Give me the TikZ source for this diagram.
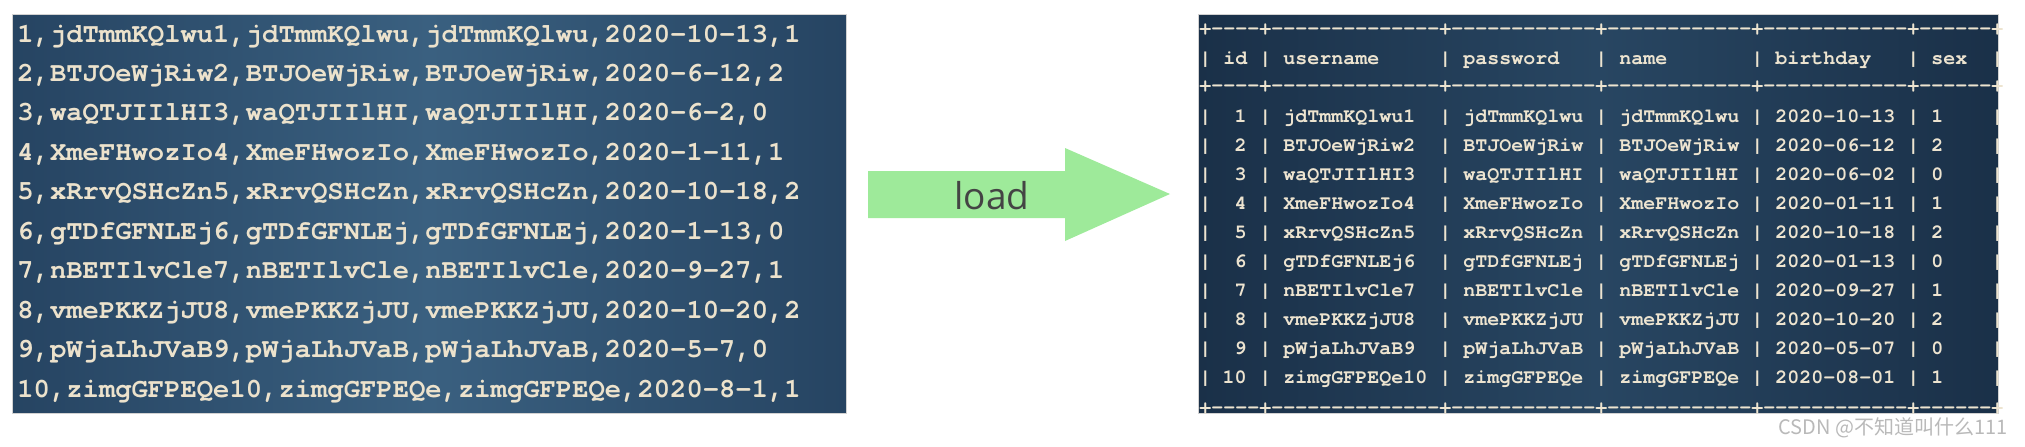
\documentclass[tikz,border=0pt]{standalone}
\usepackage{fontspec}
\newfontfamily\codefont{texgyrecursor-bold}[Extension=.otf]
\newfontfamily\labelfont{Open Sans}
\newfontfamily\cjkfont{Noto Sans CJK SC}
\definecolor{termtext}{RGB}{236,226,204}
\definecolor{fileedge}{RGB}{38,68,98}
\definecolor{filemid}{RGB}{58,96,128}
\definecolor{tableedge}{RGB}{26,48,72}
\definecolor{tablemid}{RGB}{40,70,98}
\definecolor{loadgreen}{RGB}{158,234,154}
\definecolor{loadtext}{RGB}{68,68,68}
\definecolor{markgray}{RGB}{185,185,185}

\begin{document}
\begin{tikzpicture}[x=0.5pt, y=-0.5pt,
	csv/.style={inner sep=0pt, anchor=base west, text=termtext, font=\codefont\fontsize{13.6}{14}\selectfont},
	cell/.style={inner sep=0pt, anchor=base west, text=termtext!92!white, font=\codefont\fontsize{10}{11}\selectfont}]
	\useasboundingbox (0,0) rectangle (2025,446);
	
	% text file
	\shade[left color=fileedge, right color=fileedge, middle color=filemid, draw=gray!35] (12,14) rectangle (846,413);
	\foreach \record [count=\i] in {
		{1,jdTmmKQlwu1,jdTmmKQlwu,jdTmmKQlwu,2020-10-13,1},
		{2,BTJOeWjRiw2,BTJOeWjRiw,BTJOeWjRiw,2020-6-12,2},
		{3,waQTJIIlHI3,waQTJIIlHI,waQTJIIlHI,2020-6-2,0},
		{4,XmeFHwozIo4,XmeFHwozIo,XmeFHwozIo,2020-1-11,1},
		{5,xRrvQSHcZn5,xRrvQSHcZn,xRrvQSHcZn,2020-10-18,2},
		{6,gTDfGFNLEj6,gTDfGFNLEj,gTDfGFNLEj,2020-1-13,0},
		{7,nBETIlvCle7,nBETIlvCle,nBETIlvCle,2020-9-27,1},
		{8,vmePKKZjJU8,vmePKKZjJU,vmePKKZjJU,2020-10-20,2},
		{9,pWjaLhJVaB9,pWjaLhJVaB,pWjaLhJVaB,2020-5-7,0},
		{10,zimgGFPEQe10,zimgGFPEQe,zimgGFPEQe,2020-8-1,1}}
		\node[csv] (src-\i) at (17,{42+39.45*(\i-1)}) {\record};
	
	% load arrow
	\fill[loadgreen] (868,171) -- (1065,171) -- (1065,148) -- (1170,194) -- (1065,241) -- (1065,218) -- (868,218) -- cycle;
	\node[text=loadtext, font=\labelfont\fontsize{18.5}{20}\selectfont] (load) at (992,196) {load};
	
	% mysql table
	\shade[left color=tableedge, right color=tableedge, middle color=tablemid, draw=gray!35] (1198,14) rectangle (1998,413);
	\foreach \y [count=\k] in {29,86,408}
		\node[cell, anchor=west] (rule-\k) at (1199,\y) {+----+--------------+------------+------------+------------+------+};
	\foreach \c/\h in {2/id,7/username,22/password,35/name,48/birthday,61/sex}
		\node[cell] (head-\h) at ({1199+12*\c},64) {\h};
	\foreach \u/\p/\d/\s [count=\i] in {
		jdTmmKQlwu1/jdTmmKQlwu/2020-10-13/1,
		BTJOeWjRiw2/BTJOeWjRiw/2020-06-12/2,
		waQTJIIlHI3/waQTJIIlHI/2020-06-02/0,
		XmeFHwozIo4/XmeFHwozIo/2020-01-11/1,
		xRrvQSHcZn5/xRrvQSHcZn/2020-10-18/2,
		gTDfGFNLEj6/gTDfGFNLEj/2020-01-13/0,
		nBETIlvCle7/nBETIlvCle/2020-09-27/1,
		vmePKKZjJU8/vmePKKZjJU/2020-10-20/2,
		pWjaLhJVaB9/pWjaLhJVaB/2020-05-07/0,
		zimgGFPEQe10/zimgGFPEQe/2020-08-01/1} {
		\pgfmathsetmacro\yy{122+29*(\i-1)}
		\node[cell, anchor=base east] (id-\i) at (1247,\yy) {\i};
		\node[cell] (user-\i) at (1283,\yy) {\u};
		\node[cell] (pass-\i) at (1463,\yy) {\p};
		\node[cell] (name-\i) at (1619,\yy) {\p};
		\node[cell] (birth-\i) at (1775,\yy) {\d};
		\node[cell] (sex-\i) at (1931,\yy) {\s};
	}
	\foreach \yy [count=\r] in {64,122,151,...,383}
		\foreach \c in {0,5,20,33,46,59,66}
			\node[cell] (bar-\r-\c) at ({1199+12*\c},\yy) {|};
	
	\node[anchor=base east, inner sep=0pt, text=markgray, font=\cjkfont\fontsize{10}{12}\selectfont] (mark) at (2008,434) {CSDN @不知道叫什么111};
	
\end{tikzpicture}
\end{document}
